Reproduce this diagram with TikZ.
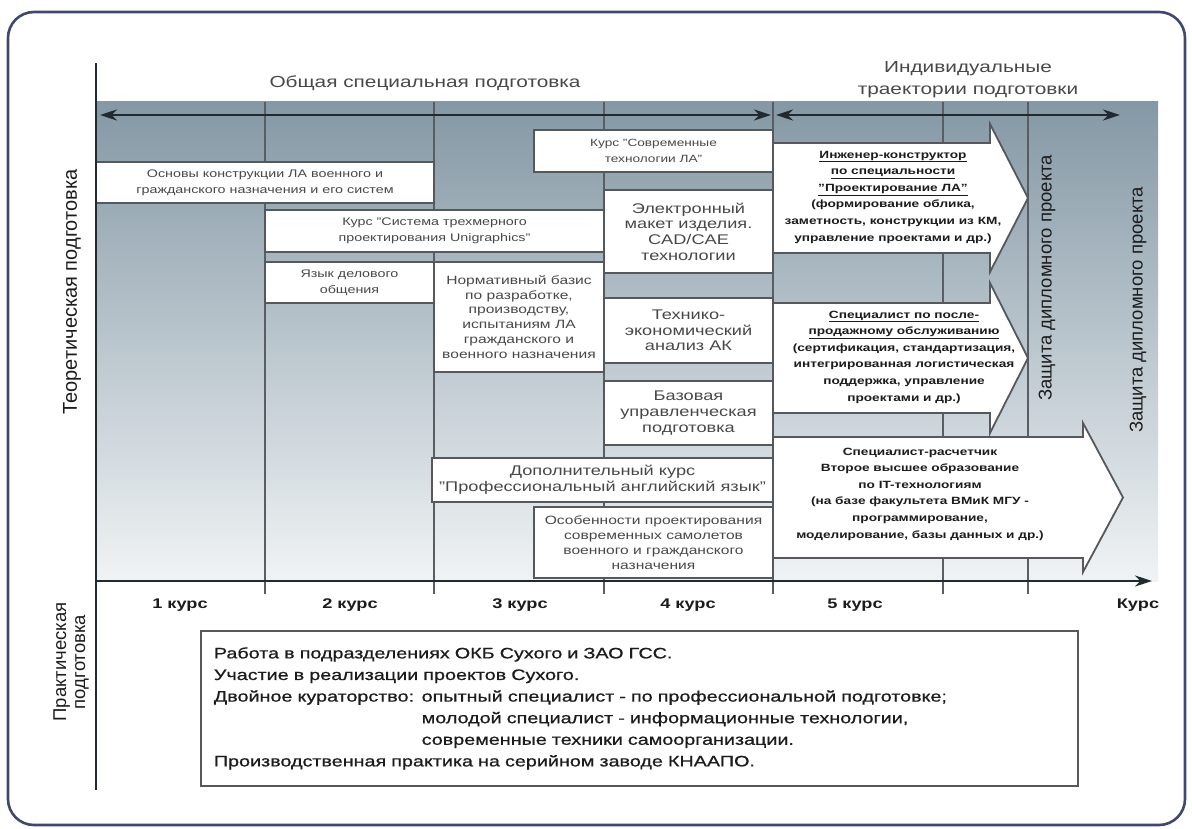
\documentclass[tikz,border=0pt]{standalone}
\usepackage{fontspec}
\setmainfont{Liberation Sans}[FakeStretch=1.3]
\newfontfamily\rotfont{Liberation Sans}
\newfontfamily\heavyfont{Liberation Sans}[FakeStretch=1.3, FakeBold=0.7]
\usetikzlibrary{positioning}
\usetikzlibrary{arrows.meta}
\usetikzlibrary{calc}

\definecolor{framecol}{RGB}{64,72,112}
\definecolor{boxgray}{RGB}{85,88,92}
\definecolor{gridgray}{RGB}{88,94,100}
\definecolor{arrowcol}{RGB}{32,42,48}
\definecolor{shadetop}{RGB}{132,152,165}
\definecolor{shademid}{RGB}{192,204,212}
\definecolor{shadebot}{RGB}{240,243,245}
\definecolor{boxtext}{RGB}{72,72,72}
\definecolor{darktext}{RGB}{28,28,28}

\begin{document}
\begin{tikzpicture}[x=1pt, y=-1pt,
        frame/.style={draw=framecol, line width=2.6pt, rounded corners=26pt},
        gridline/.style={draw=gridgray, line width=1.6pt},
        axisline/.style={draw=arrowcol, line width=2pt},
        spanarrow/.style={draw=arrowcol, fill=arrowcol, line width=2.4pt,
            {Stealth[length=17pt,width=11pt]}-{Stealth[length=17pt,width=11pt]}},
        axisarrow/.style={draw=arrowcol, fill=arrowcol, line width=2.4pt, -{Stealth[length=17pt,width=11pt]}},
        box/.style={draw=boxgray, fill=white, line width=1.8pt, inner sep=0pt, align=center, text=boxtext},
        smalltext/.style={font=\fontsize{11}{16}\selectfont},
        midtext/.style={font=\fontsize{12}{14.8}\selectfont},
        bigtext/.style={font=\fontsize{14}{15.6}\selectfont},
        pathbox/.style={draw=boxgray, fill=white, line width=1.8pt, line join=miter},
        pathtext/.style={align=center, text=darktext, font=\bfseries\fontsize{10.5}{16.6}\selectfont},
        headtext/.style={align=center, text=boxtext, font=\fontsize{16}{22}\selectfont},
        kurs/.style={text=darktext, font=\bfseries\fontsize{14}{16}\selectfont},
        sidetext/.style={rotate=90, align=center, text=darktext, font=\rotfont\fontsize{18.5}{19}\selectfont}
    ]
        \useasboundingbox (0,0) rectangle (1192,829);

        % Background and frame
        \shade[top color=shadetop, middle color=shademid, bottom color=shadebot] (96,102) rectangle (1158,581);
        \draw[frame] (8,12) rectangle (1185,825);

        % Define the coordinates of the axes
        \coordinate (vtop) at (96,63);
        \coordinate (vbot) at (96,790);
        \coordinate (origin) at (96,581);
        \coordinate (kursend) at (1152,581);
        \coordinate (obL) at (100,115);
        \coordinate (obR) at (771,115);
        \coordinate (indL) at (776,115);
        \coordinate (indR) at (1120,115);

        % Column lines
        \foreach \x in {265,434,604,773,943,1028}
        \draw[gridline] (\x,102) -- (\x,594);

        % Boxes of the first four courses
        \node[box, smalltext, minimum width=338pt, minimum height=41pt] (osnovy) at (265,182.5)
            {Основы конструкции ЛА военного и\\гражданского назначения и его систем};
        \node[box, smalltext, minimum width=339pt, minimum height=42pt] (unigraph) at (434.5,231)
            {Курс "Система трехмерного\\проектирования Unigraphics"};
        \node[box, smalltext, minimum width=169pt, minimum height=41pt] (yazyk) at (349.5,282.5)
            {Язык делового\\общения};
        \node[box, midtext, minimum width=170pt, minimum height=110pt] (norm) at (519,317)
            {Нормативный базис\\по разработке,\\производству,\\испытаниям ЛА\\гражданского и\\военного назначения};
        \node[box, font=\fontsize{10.5}{16}\selectfont, minimum width=239pt, minimum height=42pt] (sovr) at (653.5,151)
            {Курс "Современные\\технологии ЛА"};
        \node[box, bigtext, minimum width=169pt, minimum height=83pt] (maket) at (688.5,231.5)
            {Электронный\\макет изделия.\\CAD/CAE\\технологии};
        \node[box, bigtext, minimum width=169pt, minimum height=65pt] (tekhn) at (688.5,330.5)
            {Технико-\\экономический\\анализ АК};
        \node[box, bigtext, minimum width=169pt, minimum height=64pt] (bazov) at (688.5,413)
            {Базовая\\управленческая\\подготовка};
        \node[box, bigtext, minimum width=341pt, minimum height=44pt] (angl) at (602.5,480)
            {Дополнительный курс\\"Профессиональный английский язык"};
        \node[box, font=\fontsize{12}{15}\selectfont, minimum width=239pt, minimum height=71pt] (osob) at (653.5,542.5)
            {Особенности проектирования\\современных самолетов\\военного и гражданского\\назначения};

        % Individual trajectories
        \draw[pathbox] (773,143) -- (990,143) -- (990,124) -- (1028,198) -- (990,272) -- (990,253) -- (773,253) -- cycle;
        \draw[pathbox] (773,303) -- (990,303) -- (990,283) -- (1028,358) -- (990,433) -- (990,413) -- (773,413) -- cycle;
        \draw[pathbox] (773,437) -- (1083,437) -- (1083,423) -- (1123,497.5) -- (1083,572) -- (1083,558) -- (773,558) -- cycle;
        \node[pathtext] (inzh) at (893,197)
            {\underline{Инженер-конструктор}\\\underline{по специальности}\\\underline{"Проектирование ЛА"}\\(формирование облика,\\заметность, конструкции из КМ,\\управление проектами и др.)};
        \node[pathtext] (posle) at (904,357)
            {\underline{Специалист по после-}\\\underline{продажному обслуживанию}\\(сертификация, стандартизация,\\интегрированная логистическая\\поддержка, управление\\проектами и др.)};
        \node[pathtext] (raschet) at (920,494)
            {Специалист-расчетчик\\Второе высшее образование\\по IT-технологиям\\(на базе факультета ВМиК МГУ -\\программирование,\\моделирование, базы данных и др.)};

        % Draw the axes
        \draw[axisline] (vtop) -- (vbot);
        \draw[axisarrow] (origin) -- (kursend);
        \draw[spanarrow] (obL) -- (obR);
        \draw[spanarrow] (indL) -- (indR);

        % Headings
        \node[headtext] (obshch) at (425,83) {Общая специальная подготовка};
        \node[headtext] (indiv) at (968,80) {Индивидуальные\\траектории подготовки};
        \node[sidetext, font=\rotfont\fontsize{20}{20}\selectfont] (teor) at (72,292) {Теоретическая подготовка};
        \node[sidetext] (prakt) at (71,662) {Практическая\\подготовка};
        \node[sidetext] (zashch) at (1047,278) {Защита дипломного проекта};
        \node[sidetext] (zashchb) at (1138,310) {Защита дипломного проекта};

        \foreach \x/\lbl in {180/1 курс, 350/2 курс, 520/3 курс, 688/4 курс, 855/5 курс, 1138/Курс}
        \node[kurs] (kurs\x) at (\x,605) {\lbl};

        % Practical training
        \node[box, anchor=north west, minimum width=877pt, minimum height=155pt, text width=851pt,
            align=left, text=darktext, font=\heavyfont\fontsize{15.2}{21.6}\selectfont] (praktbox) at (200,630)
            {Работа в подразделениях ОКБ Сухого и ЗАО ГСС.\\
             Участие в реализации проектов Сухого.\\
             Двойное кураторство: опытный специалист - по профессиональной подготовке;\\
             \phantom{Двойное кураторство: }молодой специалист - информационные технологии,\\
             \phantom{Двойное кураторство: }современные техники самоорганизации.\\
             Производственная практика на серийном заводе КНААПО.};
      \end{tikzpicture}
\end{document}
